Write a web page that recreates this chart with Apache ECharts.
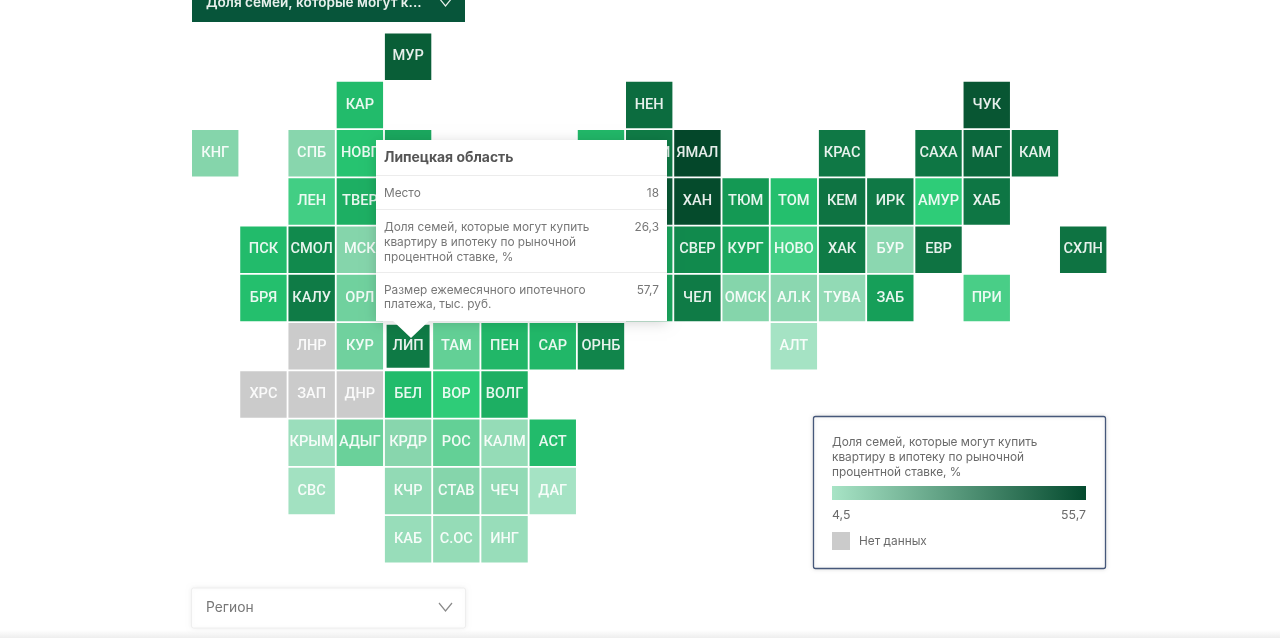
<!DOCTYPE html>
<html lang="ru">
<head>
<meta charset="utf-8">
<title>Доля семей, которые могут купить квартиру</title>
<script src="https://cdn.jsdelivr.net/npm/echarts@6/dist/echarts.min.js"></script>
<style>html,body{margin:0;padding:0;background:#fff}#chart{width:1280px;height:638px}</style>
</head>
<body>
<div id="chart"></div>
<script>
// Measured regions: code, grid column, grid row, share of families (%)
const regionCodes = ['МУР','КАР','НЕН','ЧУК','КНГ','СПБ','НОВГ','','','КОМИ','ЯМАЛ','КРАС','САХА','МАГ','КАМ',
  'ЛЕН','ТВЕР','','ХАН','ТЮМ','ТОМ','КЕМ','ИРК','АМУР','ХАБ',
  'ПСК','СМОЛ','МСК','','СВЕР','КУРГ','НОВО','ХАК','БУР','ЕВР','СХЛН',
  'БРЯ','КАЛУ','ОРЛ','','ЧЕЛ','ОМСК','АЛ.К','ТУВА','ЗАБ','ПРИ',
  'КУР','ЛИП','ТАМ','ПЕН','САР','ОРНБ','АЛТ',
  'БЕЛ','ВОР','ВОЛГ',
  'КРЫМ','АДЫГ','КРДР','РОС','КАЛМ','АСТ',
  'СВС','КЧР','СТАВ','ЧЕЧ','ДАГ',
  'КАБ','С.ОС','ИНГ'];
const regionCols = [4,3,9,16,0,2,3,4,8,9,10,13,15,16,17,
  2,3,9,10,11,12,13,14,15,16,
  1,2,3,9,10,11,12,13,14,15,18,
  1,2,3,9,10,11,12,13,14,16,
  3,4,5,6,7,8,12,
  4,5,6,
  2,3,4,5,6,7,
  2,4,5,6,7,
  4,5,6];
const regionRows = [0,1,1,1,2,2,2,2,2,2,2,2,2,2,2,
  3,3,3,3,3,3,3,3,3,3,
  4,4,4,4,4,4,4,4,4,4,4,
  5,5,5,5,5,5,5,5,5,5,
  6,6,6,6,6,6,6,
  7,7,7,
  8,8,8,8,8,8,
  9,9,9,9,9,
  10,10,10];
const regionValues = [42,19.5,36,46,10,9.5,18.5,22,20,30,55.7,31,32,38,33,
  15.5,21,45,53,24,19,33,31,17,32,
  19.5,27,10,22,27,22,15.5,30,9,33,33,
  19,30,12,22,30,10,9,8,23,15,
  12,26.3,13,20,20,28,5,
  19.5,17,21,
  6.5,12.5,9.5,13,7.5,19.5,
  5.5,8,10,8,5,
  7,7.5,7];

// Regions without data
const noDataCodes = ['ЛНР','ХРС','ЗАП','ДНР'];
const noDataCols = [2,1,2,3];
const noDataRows = [6,7,7,7];

// Axis categories
const columnTicks = ['0','1','2','3','4','5','6','7','8','9','10','11','12','13','14','15','16','17','18'];
const rowTicks = ['0','1','2','3','4','5','6','7','8','9','10'];

// Scale
const scaleMin = 4.5;
const scaleMax = 55.7;
const scaleColors = ['#a8e4c6','#7fd2a6','#2acc76','#149a55','#0f7a46','#0c6b3e','#095c36','#07502f','#04472a'];

// Text
const selectorMetric = 'Доля семей, которые могут к...';
const selectorRegion = 'Регион';
const tooltipTitle = 'Липецкая область';
const tooltipRowLabels = ['Место','Доля семей, которые могут купить\nквартиру в ипотеку по рыночной\nпроцентной ставке, %','Размер ежемесячного ипотечного\nплатежа, тыс. руб.'];
const tooltipRowValues = ['18','26,3','57,7'];
const legendTitle = 'Доля семей, которые могут купить\nквартиру в ипотеку по рыночной\nпроцентной ставке, %';
const legendMin = '4,5';
const legendMax = '55,7';
const legendNoData = 'Нет данных';
const activeRegion = 'ЛИП';

const CELL_FONT = 'Roboto, "Noto Sans", sans-serif';
const UI_FONT = 'Inter, Roboto, sans-serif';
const CELL = 46.4;

const cellLabel = {
  show: true, position: 'inside', formatter: '{b}',
  color: 'rgba(255,255,255,0.9)', fontFamily: CELL_FONT, fontSize: 14.6, fontWeight: 500
};
const allMeasured = regionCodes.map((n, i) => ({
  name: n, value: [regionCols[i], regionRows[i], regionValues[i]]
}));
const measured = allMeasured.filter(d => d.name !== activeRegion);
const active = allMeasured.filter(d => d.name === activeRegion);
const missing = noDataCodes.map((n, i) => ({ name: n, value: [noDataCols[i], noDataRows[i]] }));

function txt(x, y, text, o) {
  return { type: 'text', x, y, z: o.z || 110, silent: true, style: Object.assign({
    text, fontFamily: UI_FONT, fontSize: 11.85, fill: '#777777', lineHeight: 14.6,
    textAlign: 'left', textVerticalAlign: 'middle'
  }, o.style || {}) };
}
function chevron(cx, cy, color) {
  return { type: 'polyline', z: 110, silent: true,
    shape: { points: [[cx - 6.5, cy - 4], [cx, cy + 4], [cx + 6.5, cy - 4]] },
    style: { stroke: color, lineWidth: 1.2, fill: null } };
}
function sep(y) {
  return { type: 'line', z: 105, silent: true, shape: { x1: 376, y1: y, x2: 667, y2: y }, style: { stroke: '#ececec', lineWidth: 1 } };
}

const graphics = [
  // page footer fade
  { type: 'rect', z: 50, silent: true, shape: { x: 0, y: 630, width: 1280, height: 8 },
    style: { fill: new echarts.graphic.LinearGradient(0, 0, 0, 1, [{ offset: 0, color: '#ffffff' }, { offset: 1, color: '#eeeeee' }]) } },
  // metric selector
  { type: 'rect', z: 100, silent: true, shape: { x: 192, y: -4, width: 273, height: 26 }, style: { fill: '#07553a' } },
  txt(206, 3, selectorMetric, { style: { fill: '#e8f0ec', fontSize: 13.6, fontWeight: 600 } }),
  chevron(445.5, 2, '#e8f0ec'),
  // region selector
  { type: 'rect', z: 100, silent: true, shape: { x: 191.5, y: 588, width: 274, height: 40, r: 2 },
    style: { fill: '#ffffff', stroke: '#eeeeee', lineWidth: 1, shadowBlur: 5, shadowColor: 'rgba(0,0,0,0.06)' } },
  txt(206, 608, selectorRegion, { style: { fontSize: 13.8, fill: '#777777' } }),
  chevron(445.5, 607, '#8a8a8a'),
  // tooltip
  { type: 'rect', z: 100, silent: true, shape: { x: 376, y: 140, width: 291, height: 181 },
    style: { fill: '#ffffff', shadowBlur: 12, shadowColor: 'rgba(0,0,0,0.16)', shadowOffsetY: 2 } },
  { type: 'polygon', z: 101, silent: true, shape: { points: [[392, 320], [411, 338], [430, 320]] }, style: { fill: '#ffffff' } },
  txt(384, 158, tooltipTitle, { style: { fontSize: 13.9, fontWeight: 700, fill: '#555555' } }),
  sep(175.5), sep(209.5), sep(272.5),
  txt(384, 193.5, tooltipRowLabels[0], {}),
  txt(384, 242.5, tooltipRowLabels[1], {}),
  txt(384, 297.5, tooltipRowLabels[2], {}),
  txt(659, 193.5, tooltipRowValues[0], { style: { textAlign: 'right' } }),
  txt(659, 227.5, tooltipRowValues[1], { style: { textAlign: 'right' } }),
  txt(659, 290.5, tooltipRowValues[2], { style: { textAlign: 'right' } }),
  // legend
  { type: 'rect', z: 100, silent: true, shape: { x: 813.5, y: 416.5, width: 292, height: 152, r: 2 },
    style: { fill: '#ffffff', stroke: '#46587a', lineWidth: 1.3, shadowBlur: 4, shadowColor: 'rgba(0,0,0,0.12)' } },
  txt(832, 457.5, legendTitle, { style: { fill: '#6a6a6a' } }),
  { type: 'rect', z: 105, silent: true, shape: { x: 832, y: 486, width: 254, height: 14 },
    style: { fill: new echarts.graphic.LinearGradient(0, 0, 1, 0, [{ offset: 0, color: scaleColors[0] }, { offset: 1, color: '#044a2e' }]) } },
  txt(832, 515.5, legendMin, { style: { fontSize: 12.3, fill: '#6a6a6a' } }),
  txt(1086, 515.5, legendMax, { style: { fontSize: 12.3, fill: '#6a6a6a', textAlign: 'right' } }),
  { type: 'rect', z: 105, silent: true, shape: { x: 832, y: 532, width: 18, height: 18 }, style: { fill: '#cbcbcb' } },
  txt(859, 541.5, legendNoData, { style: { fill: '#6a6a6a' } })
];

const chart = echarts.init(document.getElementById('chart'), null, { renderer: 'canvas' });
chart.setOption({
  animation: false,
  backgroundColor: '#ffffff',
  grid: { left: 191.1, top: 32.6, width: 916.2, height: 530.7, containLabel: false },
  xAxis: { type: 'category', data: columnTicks, show: false },
  yAxis: { type: 'category', data: rowTicks, inverse: true, show: false },
  visualMap: { show: false, type: 'continuous', seriesIndex: 0, dimension: 2, min: scaleMin, max: scaleMax,
    inRange: { color: scaleColors } },
  series: [
    { type: 'scatter', data: measured, symbol: 'rect', symbolSize: CELL, silent: true,
      itemStyle: { opacity: 1 }, label: cellLabel },
    { type: 'scatter', data: missing, symbol: 'rect', symbolSize: CELL, silent: true,
      itemStyle: { opacity: 1, color: '#cbcbcb' }, label: cellLabel },
    { type: 'scatter', data: active, symbol: 'rect', symbolSize: 43, silent: true,
      itemStyle: { opacity: 1, color: '#0e7a45' }, label: cellLabel }
  ],
  graphic: { elements: graphics }
});
</script>
</body>
</html>
